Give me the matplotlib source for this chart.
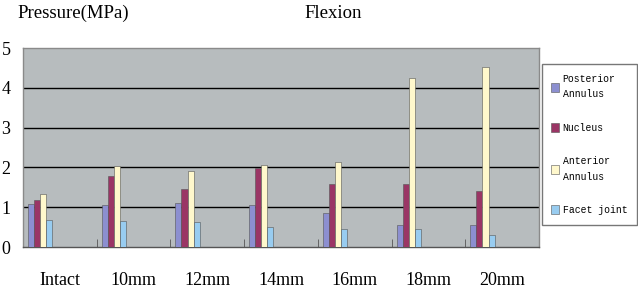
import matplotlib
import matplotlib.pyplot as plt
import numpy as np

matplotlib.use('Agg')

categories = ['Intact', '10mm', '12mm', '14mm', '16mm', '18mm', '20mm']
series = ['Posterior\nAnnulus', 'Nucleus', 'Anterior\nAnnulus', 'Facet joint']
posterior = [1.08, 1.06, 1.10, 1.06, 0.86, 0.55, 0.55]
nucleus = [1.18, 1.78, 1.47, 1.98, 1.58, 1.58, 1.40]
anterior = [1.34, 2.03, 1.92, 2.07, 2.13, 4.24, 4.52]
facet = [0.69, 0.66, 0.64, 0.50, 0.46, 0.46, 0.31]
colors = ['#8c8fd0', '#9a3565', '#fff8cc', '#98ccf0']

fig = plt.figure(figsize=(6.38, 2.91), dpi=100)
ax = fig.add_axes([0.036, 0.151, 0.809, 0.684])
ax.set_facecolor('#b7bcbe')

x = np.arange(len(categories))
w = 0.082
off = 0.068
for j, vals in enumerate([posterior, nucleus, anterior, facet]):
    ax.bar(x - 0.5 + off + j * w, vals, width=w, align='edge', color=colors[j],
           edgecolor='#555555', linewidth=0.4, label=series[j], zorder=3)

ax.set_xlim(-0.5, 6.5)
ax.set_ylim(0, 5)
ax.set_yticks(range(6))
for v in range(1, 5):
    ax.axhline(v, color='black', linewidth=1.0, zorder=1)

ax.set_xticks(x)
ax.set_xticklabels(categories, fontfamily='Liberation Serif', fontsize=13)
ax.set_xticks(np.arange(0.5, 6.5, 1), minor=True)
ax.tick_params(axis='x', which='major', length=0, pad=18)
ax.tick_params(axis='x', which='minor', direction='in', length=6, color='#555555')
ax.tick_params(axis='y', length=0, pad=9, labelsize=13)
for t in ax.get_yticklabels():
    t.set_fontfamily('Liberation Serif')
for s in ax.spines.values():
    s.set_color('#8a8a8a')
    s.set_linewidth(1.0)
ax.spines['bottom'].set_color('#555555')

fig.text(0.028, 0.955, 'Pressure(MPa)', fontfamily='Liberation Serif', fontsize=13.5,
         va='center', ha='left')
fig.text(0.522, 0.955, 'Flexion', fontfamily='Liberation Serif', fontsize=13.5,
         va='center', ha='center')

leg = fig.legend(loc='upper left', bbox_to_anchor=(0.849, 0.780), borderaxespad=0,
                 frameon=True, fancybox=False, edgecolor='#555555',
                 prop={'family': 'Liberation Mono', 'size': 7},
                 handlelength=0.8, handleheight=1.1, handletextpad=0.35,
                 labelspacing=2.4, borderpad=1.0)
leg.get_frame().set_linewidth(1.0)
for t in leg.get_texts():
    t.set_linespacing(1.7)

fig.savefig('out.png', dpi=100)
